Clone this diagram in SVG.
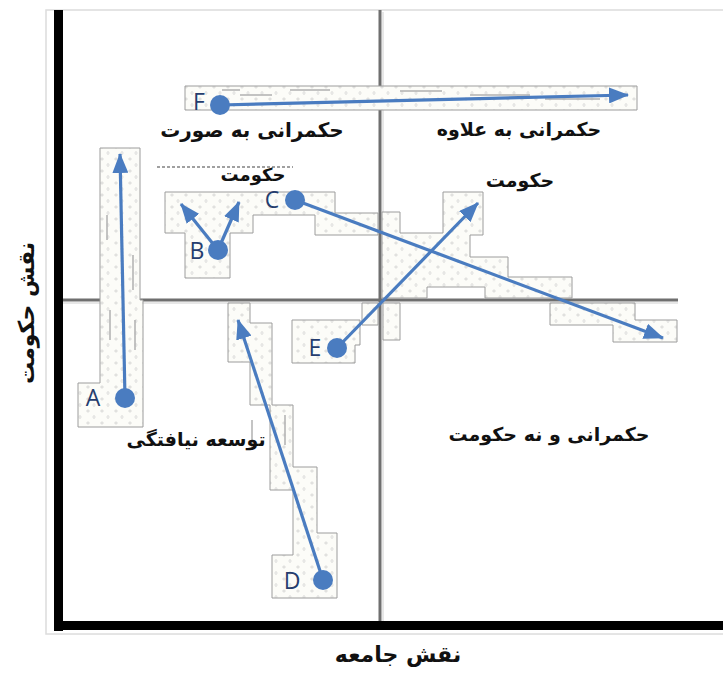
<svg xmlns="http://www.w3.org/2000/svg" width="723" height="673" viewBox="0 0 723 673">
<style>
.fa{font-family:"DejaVu Sans","Noto Sans",sans-serif;font-weight:bold;fill:#111;text-anchor:middle}
.lbl{font-family:"Open Sans","Liberation Sans",sans-serif;fill:#253d6e;text-anchor:middle;font-size:23px}
.blot{fill:url(#speck);stroke:#9c9c9c;stroke-width:1}
.conn{stroke:#4a7cc0;stroke-width:3.2;fill:none;marker-end:url(#ah)}
.dot{fill:#4a7cc0}
.dash{stroke:#b0b0b0;stroke-width:1.5;fill:none}
</style>
<defs>
<pattern id="speck" width="14" height="12" patternUnits="userSpaceOnUse">
<rect width="14" height="12" fill="#fcfcf8"/>
<ellipse cx="4" cy="3" rx="1.3" ry="1" fill="none" stroke="#c4c4c4" stroke-width="0.6"/>
<ellipse cx="10" cy="9" rx="1" ry="1.5" fill="none" stroke="#cacaca" stroke-width="0.6"/>
</pattern>
<marker id="ah" markerUnits="userSpaceOnUse" markerWidth="20" markerHeight="16" refX="19" refY="8" orient="auto">
<path d="M0,0 L20,8 L0,16 z" fill="#4a7cc0"/>
</marker>
</defs>
<rect width="723" height="673" fill="#fff"/>
<g id="frame">
<rect x="46" y="10" width="680" height="624" fill="none" stroke="#dcdcdc" stroke-width="1.5"/>
<line x1="380" y1="10" x2="380" y2="622" stroke="#6f6f6f" stroke-width="3"/>
<line x1="383" y1="12" x2="383" y2="622" stroke="#cfcfcf" stroke-width="1"/>
<line x1="60" y1="300" x2="678" y2="300" stroke="#6f6f6f" stroke-width="3"/>
<line x1="60" y1="303" x2="678" y2="303" stroke="#cfcfcf" stroke-width="1"/>
<rect x="54" y="10" width="9" height="621" fill="#000"/>
<rect x="54" y="621" width="669" height="9" fill="#000"/>
</g>
<g id="regions">
<polygon class="blot" points="185,86 637,86 637,110 185,110"/>
<polygon class="blot" points="100,148 140,148 140,300 143,300 143,427 78,427 78,383 100,383"/>
<polygon class="blot" points="165,192 335,192 335,213 378,213 378,235 315,235 315,215 253,215 253,233 230,233 230,278 185,278 185,233 165,233"/>
<polygon class="blot" points="382,212 400,212 400,233 443,233 443,192 483,192 483,235 470,235 470,257 508,257 508,277 572,277 572,298 485,298 485,287 427,287 427,298 382,298"/>
<polygon class="blot" points="550,303 635,303 635,320 677,320 677,342 613,342 613,325 550,325"/>
<polygon class="blot" points="383,303 400,303 400,340 383,340"/>
<polygon class="blot" points="362,303 378,303 378,325 362,325"/>
<polygon class="blot" points="228,303 250,303 250,323 272,323 272,405 293,405 293,467 317,467 317,533 337,533 337,598 272,598 272,555 293,555 293,490 270,490 270,405 250,405 250,362 228,362"/>
<polygon class="blot" points="292,320 360,320 360,345 355,345 355,363 292,363"/>
<line class="dash" x1="222" y1="90" x2="240" y2="90"/>
<line class="dash" x1="240" y1="95" x2="272" y2="95"/>
<line class="dash" x1="290" y1="90" x2="330" y2="90"/>
<line class="dash" x1="400" y1="91" x2="442" y2="91"/>
<line class="dash" x1="470" y1="95" x2="530" y2="95"/>
<line class="dash" x1="545" y1="99" x2="600" y2="99"/>
<line x1="157" y1="167" x2="293" y2="167" stroke="#a0a0a0" stroke-width="2" stroke-dasharray="3,2"/>
<line class="dash" x1="107" y1="215" x2="107" y2="240"/>
<line class="dash" x1="133" y1="255" x2="133" y2="290"/>
<line class="dash" x1="110" y1="310" x2="110" y2="340"/>
<line class="dash" x1="135" y1="320" x2="135" y2="350"/>
<line class="dash" x1="252" y1="420" x2="252" y2="450"/>
<line class="dash" x1="285" y1="415" x2="285" y2="445"/>
</g>
<g id="connectors">
<line class="conn" x1="220" y1="105" x2="628" y2="95"/>
<line class="conn" x1="125" y1="398" x2="120" y2="154"/>
<line class="conn" x1="218" y1="250" x2="181" y2="204"/>
<line class="conn" x1="218" y1="250" x2="239" y2="202"/>
<line class="conn" x1="295" y1="200" x2="663" y2="338"/>
<line class="conn" x1="323" y1="580" x2="238" y2="320"/>
<line class="conn" x1="337" y1="348" x2="478" y2="203"/>
</g>
<g id="node-A"><circle class="dot" cx="125" cy="398" r="10"/><text class="lbl" x="93" y="406">A</text></g>
<g id="node-B"><circle class="dot" cx="218" cy="250" r="10"/><text class="lbl" x="197" y="259">B</text></g>
<g id="node-C"><circle class="dot" cx="295" cy="200" r="10"/><text class="lbl" x="272" y="208">C</text></g>
<g id="node-D"><circle class="dot" cx="323" cy="580" r="10"/><text class="lbl" x="292" y="589">D</text></g>
<g id="node-E"><circle class="dot" cx="337" cy="348" r="10"/><text class="lbl" x="315" y="356">E</text></g>
<g id="node-F"><circle class="dot" cx="220" cy="105" r="10"/><text class="lbl" x="199" y="110" font-size="22">F</text></g>
<g id="labels">
<text class="fa" x="252" y="137" font-size="20">حکمرانی به صورت</text>
<text class="fa" x="253" y="181" font-size="18">حکومت</text>
<text class="fa" x="519" y="136" font-size="19">حکمرانی به علاوه</text>
<text class="fa" x="520" y="187" font-size="19">حکومت</text>
<text class="fa" x="196" y="446" font-size="19">توسعه نیافتگی</text>
<text class="fa" x="549" y="441" font-size="19">حکمرانی و نه حکومت</text>
<text class="fa" x="398" y="662" font-size="22">نقش جامعه</text>
<text class="fa" x="0" y="0" font-size="22" transform="translate(34,313) rotate(-90)">نقش حکومت</text>
</g>
</svg>
